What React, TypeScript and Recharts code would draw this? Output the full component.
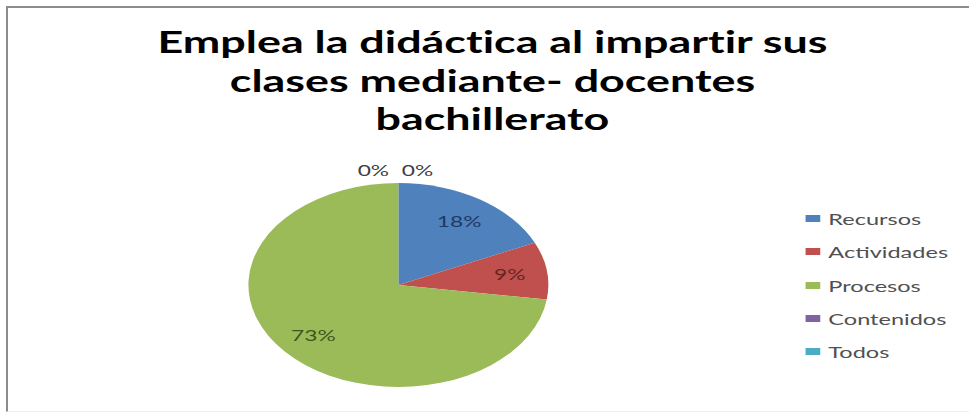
import { Legend, Pie, PieChart } from 'recharts';

const categories = ['Recursos', 'Actividades', 'Procesos', 'Contenidos', 'Todos'];
const counts = [2, 1, 8, 0, 0];
const sliceColors = ['#4f81bd', '#c0504d', '#9bbb59', '#8064a2', '#4bacc6'];
const labelColors = ['#1f3864', '#632523', '#3f5420', '#404040', '#404040'];
const titleLines = ['Emplea la didáctica al impartir sus', 'clases mediante- docentes', 'bachillerato'];

// the original picture is stretched horizontally; draw narrow and scale
const STRETCH = 1.47;
const W = 660;
const H = 419;
const RAD = Math.PI / 180;

const data = categories.map((name, i) => ({ name, value: counts[i], fill: sliceColors[i] }));

function renderLabel(props: any) {
  const { cx, cy, midAngle, outerRadius, percent, index, value } = props;
  let x: number;
  let y: number;
  if (value === 0) {
    x = cx + (index === 3 ? -17 : 13);
    y = cy - outerRadius - 13;
  } else {
    const r = outerRadius * 0.75;
    x = cx + r * Math.cos(-midAngle * RAD);
    y = cy + r * Math.sin(-midAngle * RAD);
  }
  return (
    <text
      x={x}
      y={y}
      fill={labelColors[index]}
      textAnchor="middle"
      dominantBaseline="central"
      style={{ fontFamily: 'Lato, sans-serif', fontSize: 15.5 }}
    >
      {`${Math.round(percent * 100)}%`}
    </text>
  );
}

function LegendBox({ payload }: any) {
  const items = [...(payload || [])].sort(
    (a: any, b: any) => categories.indexOf(a.value) - categories.indexOf(b.value)
  );
  return (
    <ul style={{ listStyle: 'none', margin: 0, padding: 0 }}>
      {items.map((p: any) => (
        <li
          key={p.value}
          style={{ height: 33.3, display: 'flex', alignItems: 'center', fontFamily: 'Lato, sans-serif', fontSize: 16, color: '#505050' }}
        >
          <span style={{ display: 'inline-block', width: 9.5, height: 7, background: p.color, marginRight: 6 }} />
          {p.value}
        </li>
      ))}
    </ul>
  );
}

export default function App() {
  return (
    <div style={{ position: 'absolute', left: 0, top: 0, width: 969, height: H, overflow: 'hidden', background: '#fff' }}>
      <div
        style={{
          position: 'absolute',
          left: 6,
          top: 6,
          width: 1000,
          height: 403,
          borderTop: '2px solid #8c8c8c',
          borderLeft: '2px solid #8c8c8c',
          borderBottom: '1px solid #f0f0f0',
        }}
      />
      <div style={{ position: 'absolute', left: 0, top: 0, width: W, height: H, transform: `scaleX(${STRETCH})`, transformOrigin: '0 0' }}>
        <div
          style={{
            position: 'absolute',
            left: 0,
            top: 22,
            width: 670,
            textAlign: 'center',
            fontFamily: 'Lato, sans-serif',
            fontWeight: 700,
            fontSize: 30.5,
            fontVariantLigatures: 'none',
            lineHeight: '38.5px',
            color: '#000',
          }}
        >
          {titleLines.map((t) => (
            <div key={t}>{t}</div>
          ))}
        </div>
        <PieChart width={W} height={H} margin={{ top: 0, right: 0, bottom: 0, left: 0 }}>
          <Pie
            data={data}
            dataKey="value"
            nameKey="name"
            cx={271}
            cy={285}
            outerRadius={102}
            startAngle={90}
            endAngle={-270}
            stroke="none"
            label={renderLabel}
            labelLine={false}
            isAnimationActive={false}
          />
          <Legend
            content={<LegendBox />}
            wrapperStyle={{ left: 548, top: 202, width: 110 }}
          />
        </PieChart>
      </div>
    </div>
  );
}
